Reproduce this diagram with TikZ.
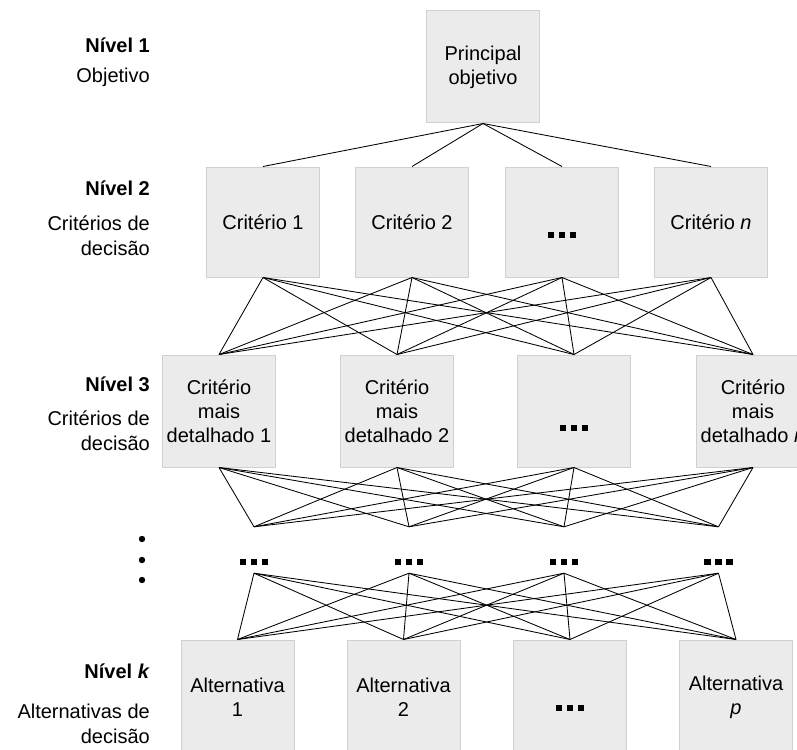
\documentclass[tikz,border=0pt]{standalone}
\usepackage{fontspec}
\setmainfont{Liberation Sans}
\definecolor{boxfill}{RGB}{235,235,235}
\definecolor{boxline}{RGB}{208,208,208}
\newcommand\sqdots[1]{\rule[#1]{6.7pt}{6.7pt}\hspace{4.3pt}\rule[#1]{6.7pt}{6.7pt}\hspace{4.3pt}\rule[#1]{6.7pt}{6.7pt}}
\tikzset{
  box/.style={draw=boxline, fill=boxfill, line width=1pt, minimum width=113pt,
    minimum height=112pt, inner sep=0pt, align=center,
    font=\fontsize{20}{24}\selectfont},
  dotbox/.style={box, text height=0pt, text depth=0pt},
  dotrow/.style={inner sep=0pt, minimum height=46pt, minimum width=34pt,
    text height=0pt, text depth=0pt},
  conn/.style={draw=black, line width=0.85pt},
  lvl/.style={anchor=east, align=right, inner sep=0pt,
    font=\fontsize{20}{25}\selectfont},
  lvltitle/.style={lvl, font=\fontsize{20}{25}\selectfont\bfseries}
}
\begin{document}
\begin{tikzpicture}[x=1pt,y=-1pt]
\useasboundingbox (0,0) rectangle (797,749);
% level 1
\node[box] (L1) at (483,67) {Principal\\objetivo};
% level 2
\node[box, minimum height=110pt] (B21) at (263,222) {Crit\'erio 1};
\node[box, minimum height=110pt] (B22) at (412,222) {Crit\'erio 2};
\node[dotbox, minimum height=110pt] (B23) at (562,222) {\sqdots{-16.3pt}};
\node[box, minimum height=110pt] (B24) at (711,222) {Crit\'erio \textit{n}};
% level 3
\node[box] (B31) at (219,411) {Crit\'erio\\mais\\detalhado 1};
\node[box] (B32) at (397,411) {Crit\'erio\\mais\\detalhado 2};
\node[dotbox] (B33) at (574,411) {\sqdots{-20.3pt}};
\node[box] (B34) at (753,411) {Crit\'erio\\mais\\detalhado \textit{n}};
% intermediate dots
\node[dotrow] (D1) at (254,550) {\sqdots{-15.3pt}};
\node[dotrow] (D2) at (409,550) {\sqdots{-15.3pt}};
\node[dotrow] (D3) at (564,550) {\sqdots{-15.3pt}};
\node[dotrow] (D4) at (718.5,550) {\sqdots{-15.3pt}};
% level k
\node[box, minimum height=114pt] (B41) at (237.5,697) {Alternativa\\1};
\node[box, minimum height=114pt] (B42) at (403.5,697) {Alternativa\\2};
\node[dotbox, minimum height=114pt] (B43) at (570,697) {\sqdots{-14.3pt}};
\node[box, minimum height=114pt] (B44) at (736,697) {Alternativa\\\textit{p}};
% connectors
\foreach \j in {1,...,4} \draw[conn] (L1.south) -- (B2\j.north);
\foreach \i in {1,...,4} \foreach \j in {1,...,4} \draw[conn] (B2\i.south) -- (B3\j.north);
\foreach \i in {1,...,4} \foreach \j in {1,...,4} \draw[conn] (B3\i.south) -- (D\j.north);
\foreach \i in {1,...,4} \foreach \j in {1,...,4} \draw[conn] (D\i.south) -- (B4\j.north);
% left labels
\node[lvltitle] (T1) at (150,45) {N\'ivel 1};
\node[lvl] (S1) at (150,77) {Objetivo};
\node[lvltitle] (T2) at (150,188) {N\'ivel 2};
\node[lvl] (S2) at (150,235.5) {Crit\'erios de\\decis\~ao};
\node[lvltitle] (T3) at (150,384) {N\'ivel 3};
\node[lvl] (S3) at (150,431) {Crit\'erios de\\decis\~ao};
\node[lvltitle] (T4) at (150,671) {N\'ivel \textit{k}};
\node[lvl] (S4) at (150,724) {Alternativas de\\decis\~ao};
% vertical ellipsis
\fill (142,539) circle (3.2pt);
\fill (142,560) circle (3.2pt);
\fill (142,580) circle (3.2pt);
\end{tikzpicture}
\end{document}
